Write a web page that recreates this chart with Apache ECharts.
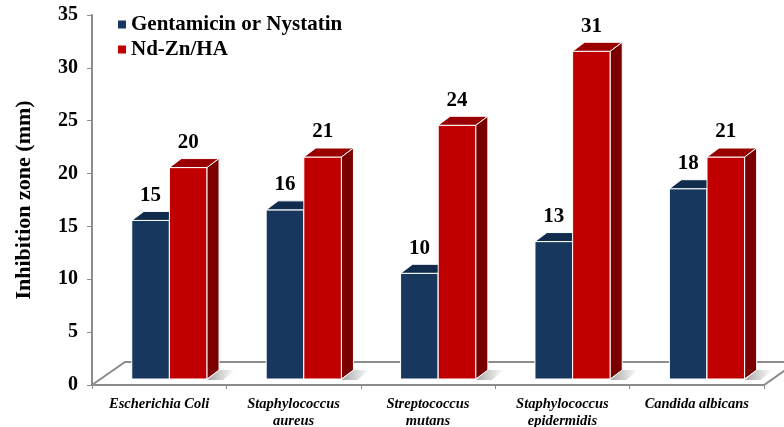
<!DOCTYPE html>
<html>
<head>
<meta charset="utf-8">
<script src="https://cdn.jsdelivr.net/npm/echarts@6/dist/echarts.min.js"></script>
<style>
  html, body { margin: 0; padding: 0; background: #fff; }
  #chart { width: 784px; height: 427px; }
</style>
</head>
<body>
<div id="chart"></div>
<script>
// Inhibition zone (mm) per organism
const categories = [
  'Escherichia Coli',
  'Staphylococcus\naureus',
  'Streptococcus\nmutans',
  'Staphylococcus\nepidermidis',
  'Candida albicans'
];
const gentamicinNystatin = [15, 16, 10, 13, 18];
const ndZnHA = [20, 21, 24, 31, 21];

const seriesNames = ['Gentamicin or Nystatin', 'Nd-Zn/HA'];
const yMin = 0, yMax = 35, yStep = 5;

const SERIF = "'Times New Roman', 'Liberation Serif', serif";

// Oblique 3D depth used for bar tops, sides and the floor
const BAR_DEPTH = [12, -9];
const FLOOR_DEPTH = [33, -23];

const palettes = [
  { front: '#17375E', top: '#112C4D', side: '#0C2240' },
  { front: '#C00000', top: '#9A0000', side: '#7A0000' }
];

function barRenderer(slot) {
  const pal = palettes[slot];
  return function (params, api) {
    const ci = api.value(0);
    const v = api.value(1);
    const base = api.coord([ci, 0]);
    const tip = api.coord([ci, v]);
    const band = api.size([1, 0])[0];
    const w = band * 0.28;
    const shiftX = band * 0.076;
    const shiftY = -6;
    const x = base[0] + shiftX - w + slot * w;
    const yb = base[1] + shiftY;
    const yt = tip[1] + shiftY;
    const dx = BAR_DEPTH[0], dy = BAR_DEPTH[1];
    const children = [];
    if (slot === 1) {
      children.push({
        type: 'polygon',
        shape: { points: [[x + w, yb + 1], [x + w + dx, yb + dy], [x + w + dx + 16, yb + dy], [x + w + 16, yb + 1]] },
        style: {
          fill: new echarts.graphic.LinearGradient(0, 0, 1, 0, [
            { offset: 0, color: 'rgba(0,0,0,0.35)' },
            { offset: 1, color: 'rgba(0,0,0,0)' }
          ])
        },
        silent: true
      });
    }
    children.push({
      type: 'rect',
      shape: { x: x, y: yt, width: w, height: yb - yt },
      style: { fill: pal.front, stroke: '#ffffff', lineWidth: 1 }
    });
    children.push({
      type: 'polygon',
      shape: { points: [[x, yt], [x + w, yt], [x + w + dx, yt + dy], [x + dx, yt + dy]] },
      style: { fill: pal.top, stroke: '#ffffff', lineWidth: 1 }
    });
    children.push({
      type: 'polygon',
      shape: { points: [[x + w, yt], [x + w + dx, yt + dy], [x + w + dx, yb + dy], [x + w, yb]] },
      style: { fill: pal.side, stroke: '#ffffff', lineWidth: 1 }
    });
    children.push({
      type: 'text',
      style: {
        text: String(v),
        x: x + w / 2,
        y: yt - 25,
        align: 'center',
        verticalAlign: 'middle',
        fill: '#000',
        font: 'bold 21px ' + SERIF
      }
    });
    return { type: 'group', children: children };
  };
}

function floorRenderer(params, api) {
  const cs = params.coordSys;
  const x0 = cs.x, x1 = cs.x + cs.width, y0 = cs.y + cs.height;
  const dx = FLOOR_DEPTH[0], dy = FLOOR_DEPTH[1];
  return {
    type: 'polygon',
    shape: { points: [[x0, y0], [x1, y0], [x1 + dx, y0 + dy], [x0 + dx, y0 + dy]] },
    style: { fill: '#ffffff', stroke: '#8c8c8c', lineWidth: 2 },
    silent: true
  };
}

const chart = echarts.init(document.getElementById('chart'), null, { renderer: 'canvas' });

chart.setOption({
  animation: false,
  backgroundColor: '#ffffff',
  grid: { left: 92, right: 20, top: 15, bottom: 42, containLabel: false, outerBoundsMode: 'none' },
  legend: {
    data: seriesNames,
    orient: 'vertical',
    left: 113,
    top: 9,
    icon: 'rect',
    itemWidth: 8,
    itemHeight: 8,
    itemGap: 4,
    textStyle: { fontFamily: SERIF, fontWeight: 'bold', fontSize: 21, color: '#000' }
  },
  xAxis: {
    type: 'category',
    data: categories,
    axisLine: { show: false },
    axisTick: { show: true, length: 4, lineStyle: { color: '#8c8c8c', width: 1 } },
    axisLabel: {
      interval: 0,
      margin: 11,
      fontFamily: SERIF,
      fontStyle: 'italic',
      fontWeight: 'bold',
      fontSize: 14.5,
      lineHeight: 17,
      color: '#000'
    }
  },
  yAxis: {
    type: 'value',
    min: yMin,
    max: yMax,
    interval: yStep,
    name: 'Inhibition zone (mm)',
    nameLocation: 'middle',
    nameGap: 57,
    nameTextStyle: { fontFamily: SERIF, fontWeight: 'bold', fontSize: 22, color: '#000' },
    axisLine: { show: true, lineStyle: { color: '#8c8c8c', width: 2 } },
    axisTick: { show: true, length: 5, lineStyle: { color: '#8c8c8c', width: 1 } },
    axisLabel: { margin: 14, fontFamily: SERIF, fontWeight: 'bold', fontSize: 20, color: '#000' },
    splitLine: { show: false }
  },
  series: [
    {
      name: 'floor',
      type: 'custom',
      renderItem: floorRenderer,
      data: [[0, 0]],
      encode: { x: 0, y: 1 },
      z: 1,
      silent: true
    },
    {
      name: seriesNames[0],
      type: 'custom',
      renderItem: barRenderer(0),
      data: gentamicinNystatin.map((v, i) => [i, v]),
      encode: { x: 0, y: 1 },
      itemStyle: { color: palettes[0].front },
      z: 3
    },
    {
      name: seriesNames[1],
      type: 'custom',
      renderItem: barRenderer(1),
      data: ndZnHA.map((v, i) => [i, v]),
      encode: { x: 0, y: 1 },
      itemStyle: { color: palettes[1].front },
      z: 4
    }
  ]
});
</script>
</body>
</html>
